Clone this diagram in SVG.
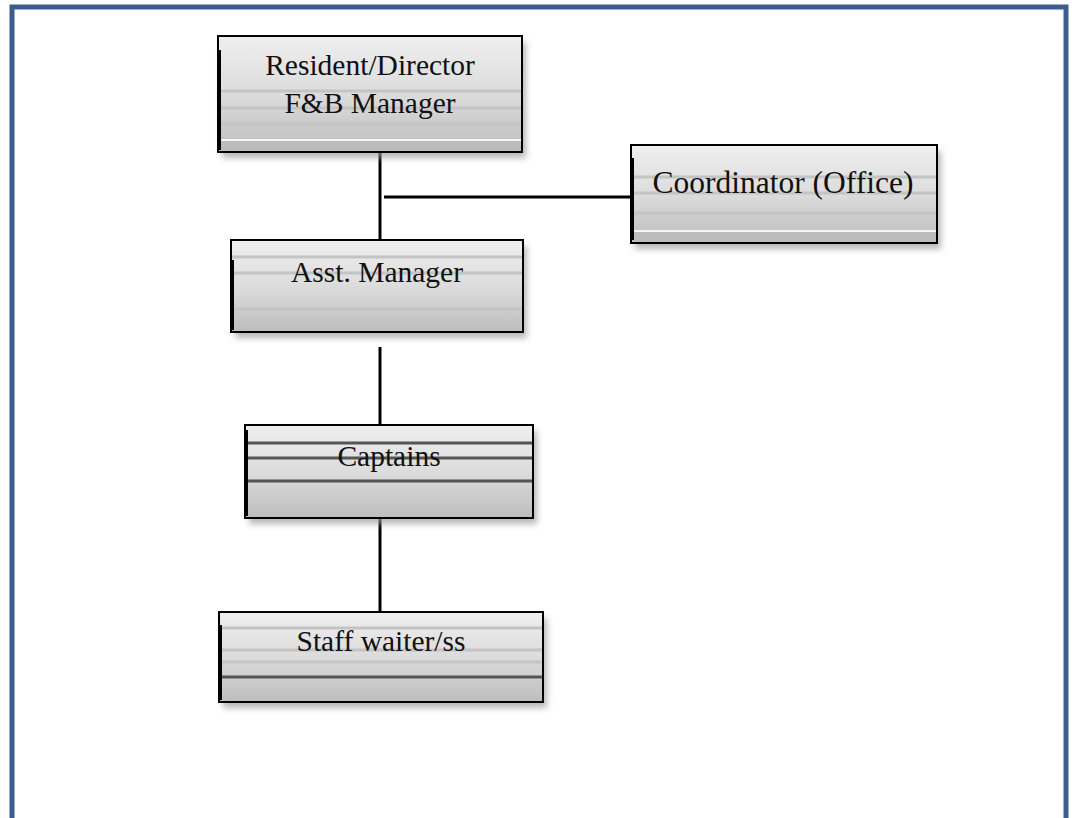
<svg xmlns="http://www.w3.org/2000/svg" width="1075" height="818" viewBox="0 0 1075 818">
<defs>
<linearGradient id="g" x1="0" y1="0" x2="0" y2="1">
<stop offset="0" stop-color="#efefef"/>
<stop offset="0.5" stop-color="#dcdcdc"/>
<stop offset="1" stop-color="#bdbdbd"/>
</linearGradient>
<filter id="sh" x="-10%" y="-10%" width="120%" height="140%">
<feGaussianBlur stdDeviation="3"/>
</filter>
</defs>
<style>
.box{fill:url(#g);stroke:#000;stroke-width:2}
.shadow{fill:#9a9a9a;filter:url(#sh);opacity:0.7}
.lt{stroke:#c4c4c4;stroke-width:3}
.wh{stroke:#f4f4f4;stroke-width:2}
.dk{stroke:#555;stroke-width:3}
.edge{stroke:#000;stroke-width:4}
.t{font-family:"Liberation Serif","Times New Roman",serif;font-size:29.5px;fill:#111;text-anchor:middle}
.c{stroke:#000;stroke-width:3;fill:none}
</style>
<rect x="0" y="0" width="1075" height="818" fill="#fff"/>
<path d="M12 818 V7 H1066 V818" fill="none" stroke="#3a5e8d" stroke-width="5"/>

<g id="connectors">
<line class="c" x1="380" y1="152" x2="380" y2="240"/>
<line class="c" x1="384" y1="197" x2="631" y2="197"/>
<line class="c" x1="380" y1="347" x2="380" y2="425"/>
<line class="c" x1="380" y1="518" x2="380" y2="611"/>
</g>

<g id="node-resident">
<rect class="shadow" x="222" y="42" width="304" height="116"/>
<rect class="box" x="218" y="36" width="304" height="116"/>
<line class="lt" x1="219" y1="91" x2="521" y2="91"/>
<line class="lt" x1="219" y1="108" x2="521" y2="108"/>
<line class="lt" x1="219" y1="124" x2="521" y2="124"/>
<line class="wh" x1="219" y1="140" x2="521" y2="140"/>
<rect x="219" y="141" width="302" height="10" fill="#bcbcbc"/>
<line class="edge" x1="219" y1="50" x2="219" y2="150"/>
<text class="t" x="370" y="75">Resident/Director</text>
<text class="t" x="370" y="113">F&amp;B Manager</text>
</g>

<g id="node-coordinator">
<rect class="shadow" x="635" y="151" width="306" height="98"/>
<rect class="box" x="631" y="145" width="306" height="98"/>
<line class="lt" x1="632" y1="177" x2="936" y2="177"/>
<line class="lt" x1="632" y1="193" x2="936" y2="193"/>
<line class="lt" x1="632" y1="213" x2="936" y2="213"/>
<line class="wh" x1="632" y1="231" x2="936" y2="231"/>
<rect x="632" y="232" width="304" height="10" fill="#bcbcbc"/>
<line class="edge" x1="632" y1="158" x2="632" y2="240"/>
<text class="t" x="783" y="193" style="font-size:31.5px">Coordinator (Office)</text>
</g>

<g id="node-asst">
<rect class="shadow" x="235" y="246" width="292" height="92"/>
<rect class="box" x="231" y="240" width="292" height="92"/>
<line class="lt" x1="232" y1="257" x2="522" y2="257"/>
<line class="lt" x1="232" y1="273" x2="522" y2="273"/>
<line class="lt" x1="232" y1="309" x2="522" y2="309"/>
<line class="edge" x1="232" y1="260" x2="232" y2="330"/>
<text class="t" x="377" y="282">Asst. Manager</text>
</g>

<g id="node-captains">
<rect class="shadow" x="249" y="431" width="288" height="93"/>
<rect class="box" x="245" y="425" width="288" height="93"/>
<line class="dk" x1="246" y1="443" x2="532" y2="443"/>
<line class="dk" x1="246" y1="458" x2="532" y2="458"/>
<line class="dk" x1="246" y1="481" x2="532" y2="481"/>
<line class="edge" x1="246" y1="430" x2="246" y2="516"/>
<text class="t" x="389" y="466">Captains</text>
</g>

<g id="node-staff">
<rect class="shadow" x="223" y="618" width="324" height="90"/>
<rect class="box" x="219" y="612" width="324" height="90"/>
<line class="lt" x1="220" y1="628" x2="542" y2="628"/>
<line class="lt" x1="220" y1="650" x2="542" y2="650"/>
<line class="lt" x1="220" y1="662" x2="542" y2="662"/>
<line class="dk" x1="220" y1="677" x2="542" y2="677"/>
<line class="edge" x1="220" y1="625" x2="220" y2="700"/>
<text class="t" x="381" y="651">Staff waiter/ss</text>
</g>
</svg>
